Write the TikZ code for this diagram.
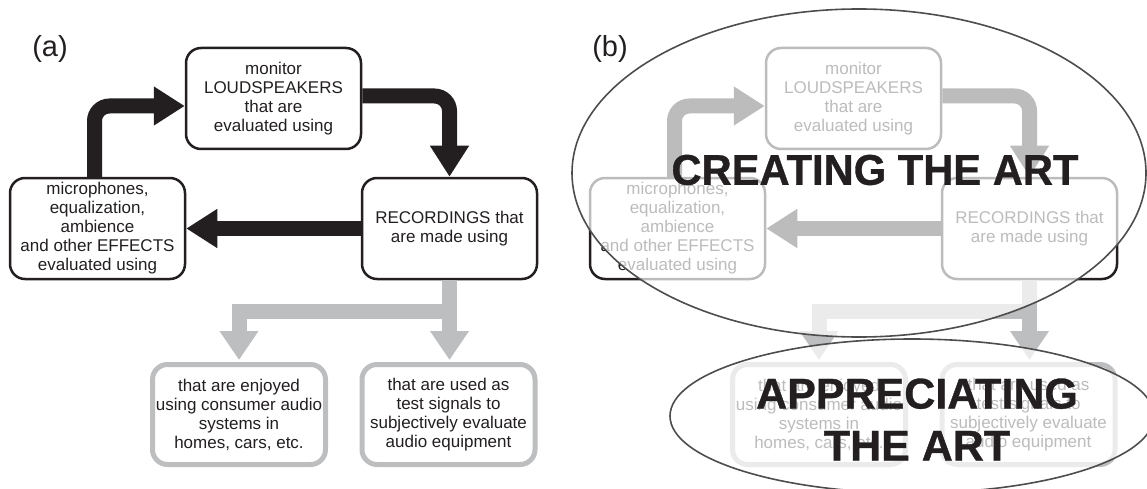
\documentclass[tikz,border=0pt]{standalone}
\usepackage{fontspec}
\setmainfont{Liberation Sans}
\newfontfamily\posterfont[FakeBold=0.8]{Liberation Sans Bold}
\usetikzlibrary{arrows.meta,positioning}

\definecolor{inkblack}{HTML}{231F20}
\definecolor{lightrule}{HTML}{BCBEC0}
\definecolor{ringgray}{HTML}{4D4D4D}

\tikzset{
  stage/.style={rectangle, rounded corners=15pt, draw=inkblack, line width=2.5pt, fill=white,
    text=inkblack, align=center, minimum width=175pt, minimum height=101pt, inner sep=0pt,
    font=\fontsize{17}{19}\selectfont},
  outlet/.style={stage, draw=lightrule, line width=5pt, minimum width=173pt, minimum height=100pt},
  cyclearrow/.style={inkblack, line width=15pt, rounded corners=15pt, -{Triangle[width=37pt,length=31pt]}},
  spreadarrow/.style={lightrule, line width=15pt, -{Triangle[width=37pt,length=29pt]}},
  paneltag/.style={font=\fontsize{29}{34}\selectfont, text=inkblack, inner sep=0pt},
  bigword/.style={font=\fontsize{43}{52}\posterfont, text=inkblack, inner sep=0pt, align=center},
}

\begin{document}
\begin{tikzpicture}[x=1pt, y=-1pt]
  \useasboundingbox (0,0) rectangle (1147,489);

  % the same chain in both panels
  \foreach \p/\dx in {a/0, b/580} {
    \begin{scope}[xshift=\dx pt]
      \node [stage] (\p-loud) at (273.5,98.5) {monitor\\LOUDSPEAKERS\\that are\\evaluated using};
      \node [stage] (\p-mic) at (97.5,228.5) {microphones,\\equalization,\\ambience\\and other EFFECTS\\evaluated using};
      \node [stage] (\p-rec) at (449.5,228.5) {RECORDINGS that\\are made using};
      \node [outlet] (\p-enjoy) at (239,414.5) {that are enjoyed\\using consumer audio\\systems in\\homes, cars, etc.};
      \node [outlet] (\p-test) at (448.5,414.5) {that are used as\\test signals to\\subjectively evaluate\\audio equipment};

      \draw [cyclearrow] ([xshift=-3pt]\p-mic.north) |- ([yshift=-7.5pt]\p-loud.west);
      \draw [cyclearrow] ([yshift=2.5pt]\p-loud.east) -| (\p-rec.north);
      \draw [cyclearrow] (\p-rec.west) -- (\p-mic.east);
      \draw [spreadarrow] (\p-rec.south) -- ([yshift=2pt]\p-rec.south |- \p-test.north);
      \draw [spreadarrow] (\p-rec.south) -- ++(0,31.5) -| ([yshift=2pt]\p-enjoy.north);
    \end{scope}
  }

  \node [paneltag] (taga) at (50,49) {(a)};
  \node [paneltag] (tagb) at (610,48.5) {(b)};

  % fade panel (b) inside the two rings
  \fill [white, opacity=0.7] (859,173) ellipse [x radius=287, y radius=164];
  \fill [white, opacity=0.7] (912,416) ellipse [x radius=242, y radius=77];
  \draw [ringgray, line width=1.6pt] (859,173) ellipse [x radius=287, y radius=164];
  \draw [ringgray, line width=1.6pt] (912,416) ellipse [x radius=242, y radius=77];

  \node [bigword] (creating) at (875,170) {\scalebox{0.97}[1]{CREATING THE ART}};
  \node [bigword] (appreciating) at (917,419.5) {APPRECIATING\\THE ART};
\end{tikzpicture}
\end{document}
